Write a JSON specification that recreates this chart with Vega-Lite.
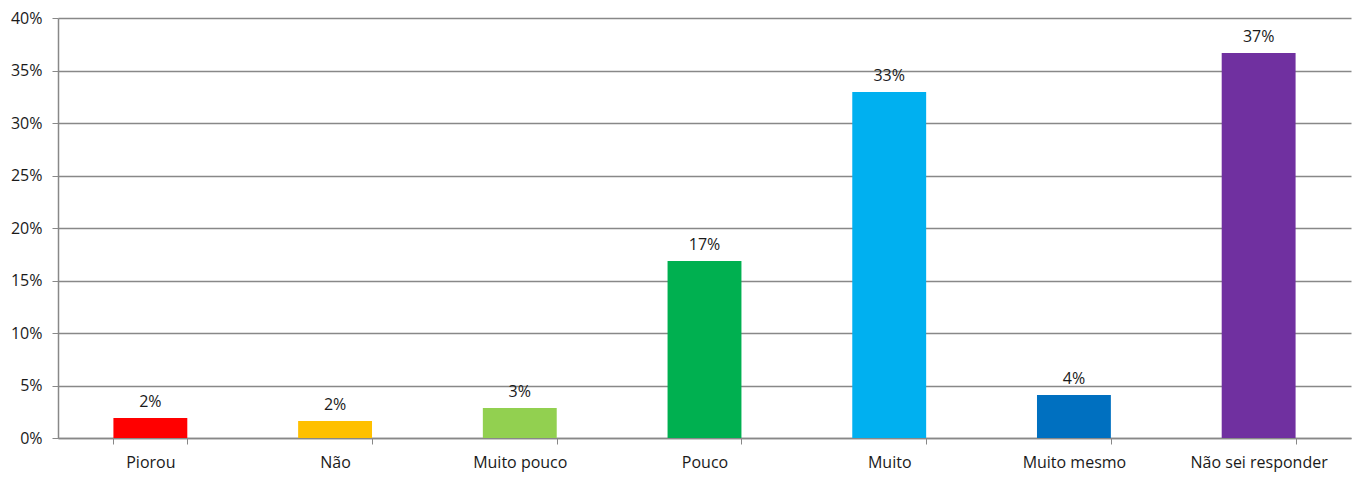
{
  "$schema": "https://vega.github.io/schema/vega-lite/v6.json",
  "autosize": "none",
  "width": 1293,
  "height": 420,
  "padding": {"left": 58, "top": 18, "right": 4, "bottom": 39},
  "background": "white",
  "config": {
    "view": {"stroke": null},
    "font": "Open Sans",
    "axis": {"labelFont": "Open Sans", "labelFontSize": 16, "labelColor": "#1a1a1a", "domainColor": "#888888", "tickColor": "#888888", "gridColor": "#888888", "domainWidth": 1.5, "gridWidth": 1.5, "tickWidth": 1}
  },
  "data": {
    "values": [
      {"categoria": "Piorou", "valor": 0.019},
      {"categoria": "Não", "valor": 0.0162},
      {"categoria": "Muito pouco", "valor": 0.0286},
      {"categoria": "Pouco", "valor": 0.1686},
      {"categoria": "Muito", "valor": 0.3295},
      {"categoria": "Muito mesmo", "valor": 0.041},
      {"categoria": "Não sei responder", "valor": 0.3667}
    ]
  },
  "encoding": {
    "x": {
      "field": "categoria",
      "type": "nominal",
      "sort": null,
      "scale": {"paddingInner": 0.6, "paddingOuter": 0.3},
      "axis": {"title": null, "labelAngle": 0, "tickBand": "extent", "tickSize": 6, "labelPadding": 10, "grid": false}
    },
    "y": {
      "field": "valor",
      "type": "quantitative",
      "scale": {"domain": [0, 0.4], "nice": false},
      "axis": {"title": null, "format": ".0%", "values": [0, 0.05, 0.1, 0.15, 0.2, 0.25, 0.3, 0.35, 0.4], "tickSize": 6, "labelPadding": 10, "grid": true}
    }
  },
  "layer": [
    {
      "mark": {"type": "bar"},
      "encoding": {
        "color": {
          "field": "categoria",
          "type": "nominal",
          "legend": null,
          "scale": {
            "domain": ["Piorou", "Não", "Muito pouco", "Pouco", "Muito", "Muito mesmo", "Não sei responder"],
            "range": ["#FF0000", "#FFC000", "#92D050", "#00B050", "#00B0F0", "#0070C0", "#7030A0"]
          }
        }
      }
    },
    {
      "mark": {"type": "text", "baseline": "bottom", "dy": -8, "fontSize": 16, "font": "Open Sans", "color": "#1a1a1a"},
      "encoding": {
        "text": {"field": "valor", "type": "quantitative", "format": ".0%"}
      }
    }
  ]
}
